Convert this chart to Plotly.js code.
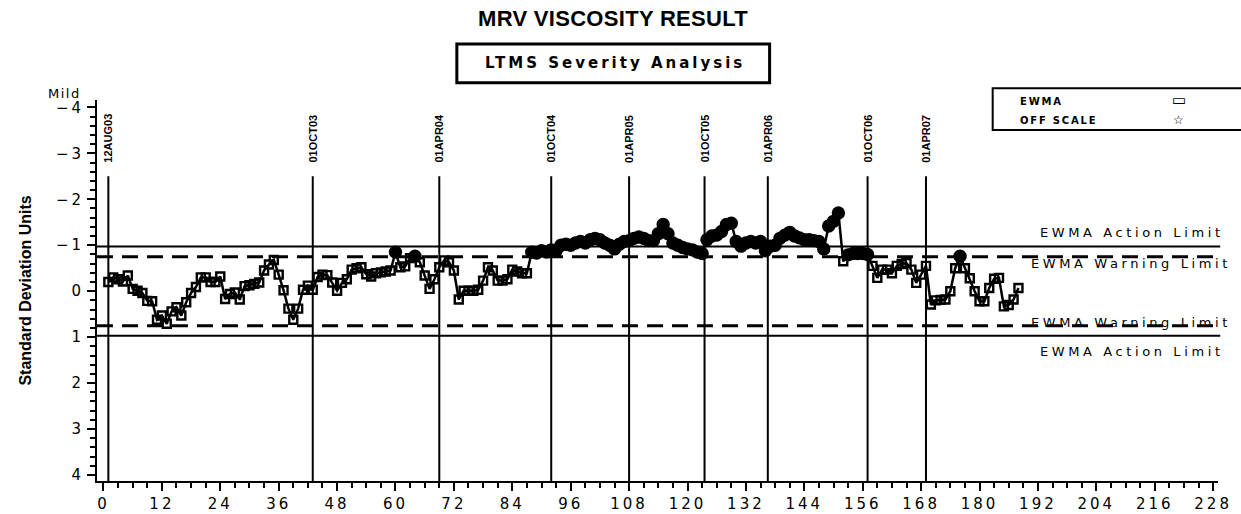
<!DOCTYPE html>
<html>
<head>
<meta charset="utf-8">
<script src="https://cdn.plot.ly/plotly-3.0.1.min.js"></script>
<style>
  html, body { margin: 0; padding: 0; background: #fff; }
  #chart { width: 1241px; height: 514px; }
</style>
</head>
<body>
<div id="chart"></div>
<script>
// EWMA values (standard deviation units), one per run, starting at run 1
const ewmaValues = [
  -0.20, -0.30, -0.26, -0.21, -0.34, -0.05, -0.01, 0.04, 0.21, 0.22,
  0.62, 0.53, 0.71, 0.44, 0.35, 0.53, 0.24, 0.04, -0.09, -0.30,
  -0.30, -0.20, -0.20, -0.32, 0.17, 0.06, 0.03, 0.18, -0.11, -0.13,
  -0.16, -0.19, -0.45, -0.58, -0.68, -0.36, -0.02, 0.38, 0.62, 0.38,
  -0.03, -0.12, -0.03, -0.31, -0.36, -0.35, -0.19, -0.01, -0.18, -0.26,
  -0.47, -0.50, -0.52, -0.37, -0.32, -0.39, -0.41, -0.43, -0.45, -0.85,
  -0.52, -0.54, -0.72, -0.76, -0.63, -0.34, -0.05, -0.26, -0.52, -0.67,
  -0.63, -0.45, 0.18, -0.01, -0.01, -0.01, -0.03, -0.23, -0.52, -0.45,
  -0.23, -0.23, -0.26, -0.47, -0.43, -0.39, -0.39, -0.85, -0.83, -0.88,
  -0.85, -0.90, -0.88, -1.00, -1.02, -1.00, -1.05, -1.08, -1.05, -1.12,
  -1.15, -1.12, -1.05, -1.00, -0.92, -1.02, -1.08, -1.10, -1.15, -1.18,
  -1.15, -1.10, -1.10, -1.25, -1.45, -1.25, -1.05, -1.00, -0.95, -0.92,
  -0.90, -0.85, -0.82, -1.12, -1.20, -1.22, -1.30, -1.45, -1.48, -1.08,
  -0.98, -1.05, -1.08, -1.05, -1.08, -0.88, -0.98, -1.00, -1.15, -1.22,
  -1.28, -1.20, -1.16, -1.12, -1.12, -1.10, -1.08, -0.92, -1.42, -1.52,
  -1.70, -0.65, -0.79, -0.82, -0.82, -0.82, -0.80, -0.55, -0.29, -0.47,
  -0.47, -0.39, -0.55, -0.59, -0.61, -0.47, -0.18, -0.36, -0.55, 0.29,
  0.20, 0.19, 0.18, 0.00, -0.50, -0.76, -0.50, -0.28, 0.00, 0.22,
  0.22, -0.07, -0.27, -0.29, 0.33, 0.30, 0.18, -0.07
];
const runNumbers = ewmaValues.map((_, i) => i + 1);

// Control limits
const actionLimit = 0.97;
const warningLimit = 0.75;

// Calendar reference lines
const dateLabels = ["12AUG03", "01OCT03", "01APR04", "01OCT04", "01APR05", "01OCT05", "01APR06", "01OCT06", "01APR07"];
const dateRuns = [1, 43, 69, 92, 108, 123.5, 136.5, 157, 169];

// Tick labels
const xTickVals = [0, 12, 24, 36, 48, 60, 72, 84, 96, 108, 120, 132, 144, 156, 168, 180, 192, 204, 216, 228];
const xTickText = ["0", "12", "24", "36", "48", "60", "72", "84", "96", "108", "120", "132", "144", "156", "168", "180", "192", "204", "216", "228"];
const yTickVals = [-4, -3, -2, -1, 0, 1, 2, 3, 4];
const yTickText = ["\u22124", "\u22123", "\u22122", "\u22121", "0", "1", "2", "3", "4"];

const LS = (t, px) => '<span style="letter-spacing:' + px + 'px">' + t + '</span>';
const WIDE = 'DejaVu Sans, Verdana, sans-serif';
const SANS = 'Liberation Sans, Arial, sans-serif';

const beyond = ewmaValues.map(v => Math.abs(v) >= warningLimit);
const trace = {
  x: runNumbers,
  y: ewmaValues,
  type: 'scatter',
  mode: 'lines+markers',
  line: { color: '#000', width: 2.5 },
  marker: {
    symbol: beyond.map(b => b ? 'circle' : 'square-open'),
    size: beyond.map(b => b ? 11 : 8),
    color: '#000',
    opacity: 1,
    line: { color: '#000', width: 2.4 }
  },
  hoverinfo: 'x+y',
  showlegend: false
};

const shapes = [];
// limit lines
[-actionLimit, actionLimit].forEach(v => shapes.push({
  type: 'line', xref: 'paper', yref: 'y', x0: 0, x1: 1.002, y0: v, y1: v,
  line: { color: '#000', width: 2 }
}));
[-warningLimit, warningLimit].forEach(v => shapes.push({
  type: 'line', xref: 'paper', yref: 'y', x0: 0, x1: 1.002, y0: v, y1: v,
  line: { color: '#000', width: 3, dash: '16px,9px' }
}));
// date reference lines
dateRuns.forEach(r => shapes.push({
  type: 'line', xref: 'x', yref: 'y', x0: r, x1: r, y0: -2.5, y1: 4.13,
  line: { color: '#000', width: 2 }
}));
// subtitle box
shapes.push({
  type: 'rect', xref: 'paper', yref: 'paper', x0: 0.321, x1: 0.600, y0: 1.045, y1: 1.147,
  line: { color: '#000', width: 3 }, fillcolor: 'rgba(0,0,0,0)'
});
// legend box
shapes.push({
  type: 'rect', xref: 'paper', yref: 'paper', x0: 0.799, x1: 1.03, y0: 0.921, y1: 1.031,
  line: { color: '#000', width: 2 }, fillcolor: '#fff', layer: 'below'
});

const annotations = [];
annotations.push({
  text: '<b>' + LS('MRV VISCOSITY RESULT', 0.3) + '</b>', xref: 'paper', yref: 'paper', x: 0.460, y: 1.215,
  xanchor: 'center', yanchor: 'middle', showarrow: false,
  font: { family: SANS, size: 22, color: '#000' }
});
annotations.push({
  text: '<b>' + LS('LTMS Severity Analysis', 3) + '</b>', xref: 'paper', yref: 'paper', x: 0.462, y: 1.097,
  xanchor: 'center', yanchor: 'middle', showarrow: false,
  font: { family: WIDE, size: 15, color: '#000' }
});
annotations.push({
  text: LS('Mild', 1.5), xref: 'paper', yref: 'paper', x: -0.0294, y: 1.017,
  xanchor: 'center', yanchor: 'middle', showarrow: false,
  font: { family: WIDE, size: 13, color: '#000' }
});
// legend entries
annotations.push({
  text: '<b>' + LS('EWMA', 1.8) + '</b>', xref: 'paper', yref: 'paper', x: 0.8216, y: 0.997,
  xanchor: 'left', yanchor: 'middle', showarrow: false, font: { family: WIDE, size: 10, color: '#000' }
});
annotations.push({
  text: '<b>' + LS('OFF SCALE', 1.8) + '</b>', xref: 'paper', yref: 'paper', x: 0.8216, y: 0.945,
  xanchor: 'left', yanchor: 'middle', showarrow: false, font: { family: WIDE, size: 10, color: '#000' }
});
annotations.push({
  text: '<b>\u25AD</b>', xref: 'paper', yref: 'paper', x: 0.965, y: 1.0,
  xanchor: 'center', yanchor: 'middle', showarrow: false, font: { family: WIDE, size: 15, color: '#000' }
});
annotations.push({
  text: '\u2606', xref: 'paper', yref: 'paper', x: 0.965, y: 0.947,
  xanchor: 'center', yanchor: 'middle', showarrow: false, font: { family: WIDE, size: 12, color: '#000' }
});
// limit labels
const limitLabels = [
  { t: 'EWMA Action Limit', y: -1.27, x: 1.0075 },
  { t: 'EWMA Warning Limit', y: -0.60, x: 1.013 },
  { t: 'EWMA Warning Limit', y: 0.685, x: 1.013 },
  { t: 'EWMA Action Limit', y: 1.315, x: 1.0075 }
];
limitLabels.forEach(l => annotations.push({
  text: LS(l.t, 3.6), xref: 'paper', yref: 'y', x: l.x, y: l.y,
  xanchor: 'right', yanchor: 'middle', showarrow: false,
  font: { family: WIDE, size: 13, color: '#000' }
}));
// date labels
dateLabels.forEach((d, i) => annotations.push({
  text: '<b>' + d + '</b>', xref: 'x', yref: 'y', x: dateRuns[i], y: -2.75,
  xanchor: 'center', yanchor: 'bottom', textangle: -90, showarrow: false,
  font: { family: SANS, size: 11, color: '#000' }
}));

const layout = {
  width: 1241, height: 514,
  margin: { l: 97, r: 23, t: 100, b: 33, pad: 0 },
  paper_bgcolor: '#fff', plot_bgcolor: '#fff',
  showlegend: false,
  xaxis: {
    range: [-1.33, 229], showgrid: false, zeroline: false,
    showline: true, linecolor: '#000', linewidth: 2,
    ticks: 'outside', ticklen: 8, tickwidth: 2, tickcolor: '#000',
    tickmode: 'array', tickvals: xTickVals, ticktext: xTickText.map(t => LS(t, 3)),
    tickfont: { family: WIDE, size: 15, color: '#000' },
    minor: { dtick: 3, tick0: 0, ticks: 'outside', ticklen: 5, tickwidth: 2, tickcolor: '#000', showgrid: false }
  },
  yaxis: {
    range: [4.13, -4.16], showgrid: false, zeroline: false,
    showline: true, linecolor: '#000', linewidth: 2,
    ticks: 'outside', ticklen: 8, tickwidth: 2, tickcolor: '#000',
    tickmode: 'array', tickvals: yTickVals, ticktext: yTickText.map(t => LS(t, 3)),
    tickfont: { family: WIDE, size: 15, color: '#000' },
    minor: { dtick: 0.2, tick0: 0, ticks: 'outside', ticklen: 5, tickwidth: 2, tickcolor: '#000', showgrid: false },
    title: {
      text: '<b>Standard Deviation Units</b>', standoff: 20,
      font: { family: SANS, size: 16, color: '#000' }
    }
  },
  shapes: shapes,
  annotations: annotations
};

Plotly.newPlot('chart', [trace], layout, { staticPlot: true, displayModeBar: false });
</script>
</body>
</html>
